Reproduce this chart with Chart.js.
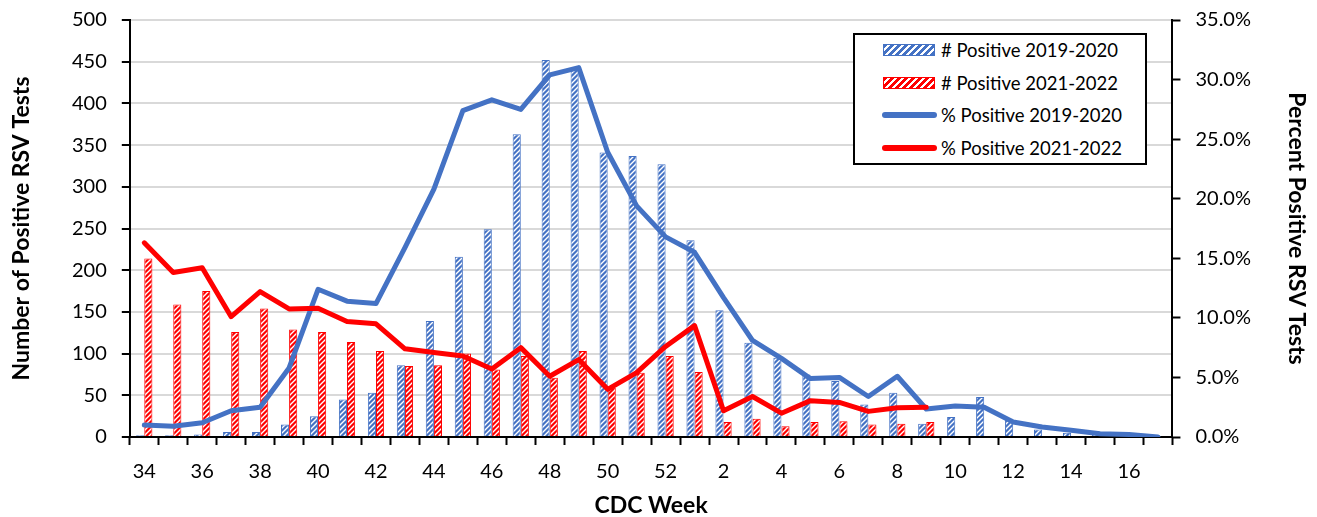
<!DOCTYPE html>
<html>
<head>
<meta charset="utf-8">
<script src="https://cdn.jsdelivr.net/npm/chart.js@4.4.1/dist/chart.umd.min.js"></script>
<style>
  body { margin: 0; background: #fff; }
  #wrap { position: relative; width: 1317px; height: 517px; }
  #legend {
    position: absolute; left: 853px; top: 33px; width: 290px; height: 128px;
    border: 2px solid #000; background: #fff;
    font-family: Lato, sans-serif; font-size: 18.5px; color: #000;
  }
  .row { position: absolute; left: 0; height: 22px; line-height: 22px; white-space: nowrap; }
  .sw { position: absolute; top: 5px; width: 52px; height: 12px; box-sizing: border-box; }
  .ln { position: absolute; top: 8px; width: 55px; height: 6px; border-radius: 3px; }
  .tx { position: absolute; top: 0; }
</style>
</head>
<body>
<div id="wrap">
  <canvas id="myChart" width="1317" height="517"></canvas>
  <div id="legend">
    <div class="row" style="top:4px">
      <div class="sw" style="left:28px;border:1px solid #4472C4;background:repeating-linear-gradient(-45deg,#4472C4 0 3px,#fff 3px 5px)"></div>
      <div class="tx" style="left:86px"># Positive 2019-2020</div>
    </div>
    <div class="row" style="top:37px">
      <div class="sw" style="left:28px;border:1px solid #FF0000;background:repeating-linear-gradient(-45deg,#FF0000 0 3px,#fff 3px 5px)"></div>
      <div class="tx" style="left:86px"># Positive 2021-2022</div>
    </div>
    <div class="row" style="top:69px">
      <div class="ln" style="left:27px;background:#4472C4"></div>
      <div class="tx" style="left:86px">% Positive 2019-2020</div>
    </div>
    <div class="row" style="top:102px">
      <div class="ln" style="left:27px;background:#FF0000"></div>
      <div class="tx" style="left:86px">% Positive 2021-2022</div>
    </div>
  </div>
</div>
<script>
// CDC weeks, season runs week 34 through week 17
const weeks = ['34','35','36','37','38','39','40','41','42','43','44','45','46','47','48','49','50','51','52',
               '1','2','3','4','5','6','7','8','9','10','11','12','13','14','15','16','17'];

// number of positive tests
const count1920 = [2,2,3,6,6,15,25,45,53,86,139,216,249,363,452,442,341,337,327,
                   236,152,113,95,75,67,39,53,16,24,48,22,9,5,3,2,1];
const count2122 = [214,159,175,126,154,129,126,114,103,85,86,100,81,97,71,103,59,77,97,
                   78,18,22,13,18,19,15,16,18,null,null,null,null,null,null,null,null];

// percent positive
const pct1920 = [1.0,0.9,1.2,2.2,2.5,5.8,12.4,11.4,11.2,15.9,20.8,27.4,28.3,27.5,30.4,31.0,23.9,19.4,16.8,
                 15.5,11.7,8.1,6.6,4.9,5.0,3.4,5.1,2.35,2.6,2.5,1.26,0.84,0.56,0.28,0.22,0.0];
const pct2122 = [16.3,13.8,14.2,10.1,12.2,10.75,10.8,9.7,9.5,7.4,7.1,6.8,5.7,7.5,5.1,6.5,4.0,5.4,7.6,
                 9.35,2.2,3.4,2.0,3.05,2.9,2.15,2.45,2.5,null,null,null,null,null,null,null,null];

const BLUE = '#4472C4';
const RED = '#FF0000';

function makeHatch(color) {
    const c = document.createElement('canvas');
    c.width = 5; c.height = 5;
    const g = c.getContext('2d');
    g.fillStyle = color;
    g.fillRect(0, 0, 5, 5);
    g.strokeStyle = '#fff';
    g.lineWidth = 1.4;
    g.beginPath();
    g.moveTo(-1, 6); g.lineTo(6, -1);
    g.moveTo(-3.5, 3.5); g.lineTo(3.5, -3.5);
    g.moveTo(1.5, 8.5); g.lineTo(8.5, 1.5);
    g.stroke();
    return g.createPattern(c, 'repeat');
}

// tick padding would otherwise push the plot top down
function trimTop(scale) { scale.paddingTop = 0; }

Chart.defaults.font.family = 'Lato, sans-serif';
Chart.defaults.color = '#000';

const titleFont = { size: 23, weight: 'bold', lineHeight: 1 };
const tickFont = { size: 20 };

const data = {
    labels: weeks,
    datasets: [
        { type: 'line', label: '% Positive 2021-2022', data: pct2122, yAxisID: 'y1',
          borderColor: RED, borderWidth: 5, pointRadius: 0, tension: 0,
          borderJoinStyle: 'round', borderCapStyle: 'round', order: 0 },
        { type: 'line', label: '% Positive 2019-2020', data: pct1920, yAxisID: 'y1',
          borderColor: BLUE, borderWidth: 5, pointRadius: 0, tension: 0,
          borderJoinStyle: 'round', borderCapStyle: 'round', order: 1 },
        { type: 'bar', label: '# Positive 2019-2020', data: count1920, yAxisID: 'y',
          backgroundColor: makeHatch(BLUE), borderColor: BLUE, borderWidth: 1, order: 2 },
        { type: 'bar', label: '# Positive 2021-2022', data: count2122, yAxisID: 'y',
          backgroundColor: makeHatch(RED), borderColor: RED, borderWidth: 1, order: 3 }
    ]
};

const config = {
    type: 'bar',
    data: data,
    options: {
        responsive: false,
        animation: false,
        layout: { padding: { left: 4, right: 4, top: 20, bottom: 0 } },
        datasets: { bar: { categoryPercentage: 0.56, barPercentage: 1.0 } },
        plugins: { legend: { display: false }, tooltip: { enabled: false } },
        scales: {
            x: {
                grid: { display: true, drawOnChartArea: false, offset: true, tickLength: 8, tickColor: '#000', tickWidth: 2 },
                border: { color: '#000', width: 2 },
                ticks: { autoSkip: false, maxRotation: 0, padding: 15, font: tickFont,
                         callback: function (v, i) { return i % 2 === 0 ? weeks[i] : ''; } },
                title: { display: true, text: 'CDC Week', font: titleFont, padding: { top: -5, bottom: 0 } }
            },
            y: {
                position: 'left', min: 0, max: 500,
                afterFit: trimTop,
                ticks: { stepSize: 50, padding: 15, font: tickFont },
                grid: { color: '#D9D9D9', lineWidth: 2, tickLength: 8, tickColor: '#000', tickWidth: 2 },
                border: { color: '#000', width: 2 },
                title: { display: true, text: 'Number of Positive RSV Tests', font: titleFont, padding: { top: 6, bottom: 24 } }
            },
            y1: {
                position: 'right', min: 0, max: 35,
                afterFit: trimTop,
                ticks: { stepSize: 5, padding: 15, font: tickFont,
                         callback: function (v) { return v.toFixed(1) + '%'; } },
                grid: { drawOnChartArea: false, tickLength: 8, tickColor: '#000', tickWidth: 2 },
                border: { color: '#000', width: 2 },
                title: { display: true, text: 'Percent Positive RSV Tests', font: titleFont, padding: { top: 5, bottom: 19 } }
            }
        }
    }
};

const myChart = new Chart(document.getElementById('myChart'), config);
</script>
</body>
</html>
